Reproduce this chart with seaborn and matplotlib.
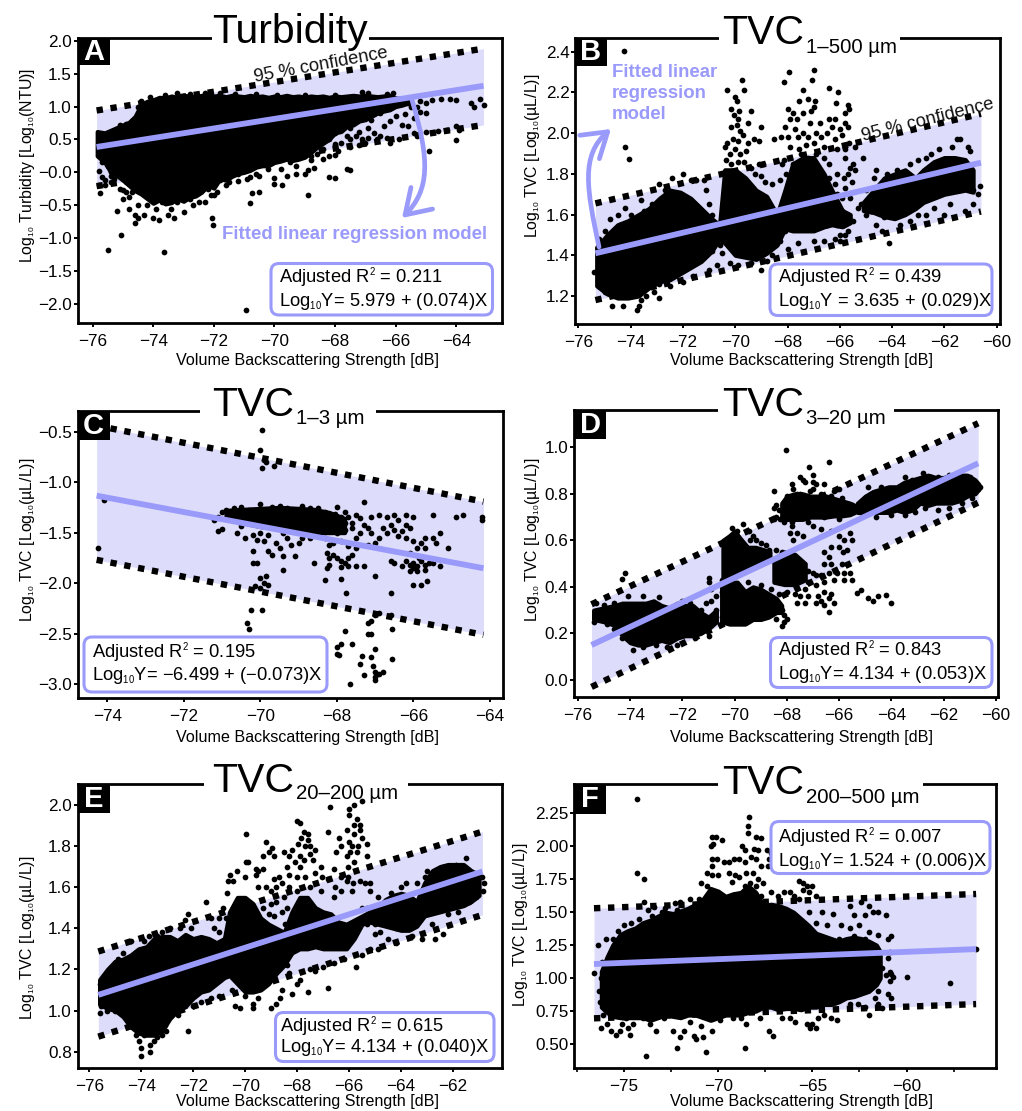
import matplotlib
matplotlib.use("Agg")
import matplotlib.pyplot as plt
import seaborn as sns
from matplotlib.patches import Rectangle, FancyBboxPatch, FancyArrowPatch
from matplotlib.path import Path
from matplotlib.transforms import Affine2D
import matplotlib._mathtext as _mt
_mt.SHRINK_FACTOR = 0.52

sns.set_theme(style="white")
plt.rcParams['font.family'] = ['Liberation Sans', 'DejaVu Sans']
plt.rcParams['mathtext.fontset'] = 'custom'
plt.rcParams['mathtext.rm'] = 'Liberation Sans'
plt.rcParams['mathtext.default'] = 'regular'

BLUE = '#9A9AFB'; BAND = '#DDDDFB'
XLAB = 'Volume Backscattering Strength [dB]'

# ---- regression fit and 95 % band end values (x0,x1), (y0,y1)
a_x = [-75.87, -63.1];  a_fit = [0.385, 1.315]; a_up = [0.94, 1.88];  a_lo = [-0.21, 0.72]
b_x = [-75.35, -60.6];  b_fit = [1.41, 1.855];  b_up = [1.655, 2.095]; b_lo = [1.18, 1.615]
c_x = [-74.28, -64.17]; c_fit = [-1.134, -1.853]; c_up = [-0.44, -1.193]; c_lo = [-1.77, -2.513]
d_x = [-75.48, -60.68]; d_fit = [0.15, 0.931];  d_up = [0.325, 1.103]; d_lo = [-0.03, 0.762]
e_x = [-75.65, -60.87]; e_fit = [1.076, 1.676]; e_up = [1.287, 1.87];  e_lo = [0.873, 1.465]
f_x = [-76.59, -56.31]; f_fit = [1.107, 1.22];  f_up = [1.53, 1.638];  f_lo = [0.695, 0.803]

# ---- dense parts of each cloud: rows of (x, upper edge, lower edge)
a_dense = [[(-75.85,.62,.25),(-75.6,.6,.15),(-75.4,.64,0),(-75.2,.68,-.05),(-75,.72,-.12),(-74.8,.76,-.2),(-74.6,.85,-.28),(-74.4,1.03,-.33),
(-74.2,1.08,-.4),(-74,1.1,-.47),(-73.8,1.14,-.42),(-73.6,1.13,-.48),(-73.4,1.16,-.46),(-73.2,1.14,-.4),(-73,1.17,-.44),(-72.8,1.16,-.38),
(-72.6,1.15,-.36),(-72.4,1.17,-.3),(-72.2,1.15,-.2),(-72,1.16,-.24),(-71.8,1.17,-.1),(-71.6,1.15,-.12),(-71.4,1.17,-.06),(-71.2,1.16,-.02),
(-71,1.15,0),(-70.8,1.17,.03),(-70.6,1.15,.08),(-70.4,1.16,.1),(-70.2,1.14,.1),(-70,1.16,.15),(-69.8,1.15,.17),(-69.6,1.17,.2),(-69.4,1.15,.18),
(-69.2,1.16,.2),(-69,1.14,.23),(-68.8,1.16,.3),(-68.6,1.15,.38),(-68.4,1.16,.44),(-68.2,1.14,.5),(-68,1.16,.6),(-67.8,1.15,.62),(-67.6,1.16,.7),
(-67.4,1.17,.72),(-67.2,1.16,.78),(-67,1.17,.8),(-66.8,1.16,.85),(-66.6,1.15,.9),(-66.4,1.16,.93),(-66.2,1.17,.95),(-66,1.13,1),(-65.8,1.12,1.02),(-65.6,1.09,1.05)]]
b_dense = [[(-75.3,1.44,1.25),(-74.9,1.5,1.21),(-74.5,1.55,1.19),(-74.1,1.57,1.19),(-73.7,1.6,1.2),(-73.3,1.63,1.24),(-72.9,1.68,1.27),(-72.5,1.72,1.28),
(-72.1,1.71,1.31),(-71.7,1.68,1.34),(-71.3,1.63,1.37),(-70.9,1.58,1.42),(-70.6,1.55,1.48),(-70.4,1.82,1.46),(-70,1.82,1.4),(-69.6,1.78,1.39),
(-69.2,1.72,1.38),(-68.8,1.69,1.41),(-68.4,1.6,1.45),(-68.1,1.72,1.53),(-67.8,1.85,1.52),(-67.4,1.88,1.52),(-67,1.88,1.52),(-66.6,1.8,1.54),
(-66.3,1.72,1.55),(-65.9,1.62,1.54),(-65.6,1.6,1.56)],
[(-65.1,1.66,1.62),(-64.7,1.72,1.61),(-64.3,1.78,1.59),(-63.9,1.8,1.58),(-63.5,1.82,1.6),(-63.1,1.78,1.63),(-62.8,1.82,1.66),(-62.4,1.86,1.68),
(-62,1.88,1.7),(-61.6,1.88,1.71),(-61.2,1.87,1.72),(-60.9,1.82,1.71)]]
c_dense = [[(-70.9,-1.28,-1.36),(-70.5,-1.27,-1.4),(-70,-1.26,-1.44),(-69.5,-1.25,-1.46),(-69,-1.26,-1.47),(-68.6,-1.27,-1.5),(-68.2,-1.3,-1.5),(-67.8,-1.36,-1.5)]]
d_dense = [[(-75.4,.30,.26),(-75,.31,.25),(-74.6,.32,.235),(-74.3,.33,.19),(-74,.33,.16),(-73.7,.33,.15),(-73.4,.33,.15),(-73.1,.34,.16),(-72.8,.32,.17),
(-72.5,.31,.16),(-72.2,.33,.18),(-71.9,.32,.19),(-71.6,.32,.19),(-71.3,.29,.2),(-71,.27,.22),(-70.7,.3,.25)],
[(-70.45,.6,.44),(-70.2,.62,.44),(-70,.64,.46),(-69.8,.61,.47),(-69.5,.57,.49),(-69.2,.57,.5),(-68.9,.56,.51),(-68.65,.55,.52)],
[(-70.5,.42,.25),(-70.2,.42,.24),(-69.9,.42,.24),(-69.6,.38,.24),(-69.3,.4,.26),(-69,.39,.26),(-68.7,.37,.27),(-68.4,.35,.29),(-68.2,.32,.29)],
[(-68.2,.76,.69),(-68,.79,.69),(-67.7,.8,.69),(-67.4,.8,.69),(-67.1,.79,.7),(-66.8,.79,.7),(-66.5,.79,.7),(-66.2,.78,.705),(-65.9,.77,.705),(-65.6,.76,.71),(-65.4,.75,.72)],
[(-65.3,.76,.72),(-65,.79,.72),(-64.7,.81,.72),(-64.4,.82,.72),(-64.1,.83,.72),(-63.8,.83,.73),(-63.5,.85,.72),(-63.2,.86,.73),(-62.9,.87,.76),(-62.6,.88,.75),
(-62.3,.87,.76),(-62,.87,.76),(-61.7,.88,.76),(-61.4,.88,.77),(-61.1,.88,.79),(-60.8,.86,.8),(-60.65,.84,.82)],
[(-68.5,.52,.42),(-68.1,.55,.41),(-67.7,.54,.41),(-67.3,.5,.43)]]
e_dense = [[(-75.6,1.15,1.03),(-75.3,1.2,1.01),(-75,1.24,1),(-74.7,1.25,.97),(-74.4,1.27,.92),(-74.1,1.3,.89),(-73.8,1.31,.88),(-73.5,1.35,.88),(-73.2,1.36,.9),
(-72.9,1.36,.96),(-72.6,1.34,1),(-72.3,1.37,1.02),(-72,1.35,1.06),(-71.7,1.36,1.09),(-71.4,1.35,1.1),(-71.1,1.33,1.13),(-70.8,1.35,1.16),(-70.6,1.48,1.17),
(-70.3,1.55,1.13),(-70,1.55,1.09),(-69.7,1.52,1.09),(-69.4,1.45,1.1),(-69.1,1.42,1.13),(-68.8,1.4,1.18),(-68.5,1.38,1.22),(-68.2,1.48,1.28),(-67.9,1.55,1.3),
(-67.6,1.55,1.3),(-67.3,1.5,1.31),(-67,1.48,1.3),(-66.7,1.47,1.3),(-66.4,1.43,1.3),(-66.1,1.42,1.3),(-65.8,1.44,1.35),(-65.5,1.46,1.42),(-65.2,1.48,1.43),
(-64.9,1.5,1.42),(-64.6,1.54,1.41),(-64.3,1.56,1.4),(-64,1.57,1.39),(-63.7,1.56,1.39),(-63.4,1.53,1.41),(-63.1,1.62,1.46),(-62.8,1.68,1.47),(-62.5,1.7,1.48),
(-62.2,1.71,1.49),(-61.9,1.71,1.5),(-61.6,1.71,1.51),(-61.3,1.68,1.53),(-61,1.66,1.56)]]
f_dense = [[(-76.2,1.05,.78),(-75.9,1.16,.74),(-75.6,1.25,.71),(-75.2,1.33,.7),(-74.8,1.36,.7),(-74.4,1.38,.7),(-74,1.42,.7),(-73.6,1.44,.68),(-73.2,1.47,.7),
(-72.8,1.5,.72),(-72.4,1.49,.71),(-72,1.51,.7),(-71.6,1.53,.72),(-71.2,1.56,.72),(-70.8,1.6,.7),(-70.4,1.68,.68),(-70,1.66,.7),(-69.6,1.62,.72),(-69.2,1.64,.72),
(-68.8,1.65,.72),(-68.4,1.7,.74),(-68,1.65,.75),(-67.6,1.55,.78),(-67.2,1.56,.78),(-66.8,1.55,.76),(-66.4,1.53,.77),(-66,1.5,.77),(-65.6,1.45,.76),(-65.2,1.4,.78),
(-64.8,1.34,.78),(-64.4,1.32,.8),(-64,1.3,.8),(-63.6,1.28,.82),(-63.2,1.3,.85),(-62.8,1.31,.86),(-62.4,1.3,.88),(-62,1.28,.9),(-61.6,1.25,.95),(-61.4,1.2,1)]]

# ---- individual dots
a_pts = [(-70.95,-2.09),(-75.5,-1.18),(-75.05,-.96),(-73.65,-1.21),(-72.05,-.7),(-72.03,-.8),(-75.2,-.59),(-75.75,-.32),
(-70.8,-.46),(-70.75,-.32),(-70.5,-.3),(-68.9,-.34),(-69.75,-.2),(-70,-.17),(-70,-.08),(-68.2,-.07),(-68,-.09),(-67.6,.05),(-67.5,.03),
(-64.9,.33),(-64,.49),(-65,1.05),(-65.3,1.0),(-64.8,1.1),(-64.5,1.12),(-64.2,1.12),(-64,1.1),(-63.5,1.06),(-63.4,1.0),(-63.2,1.12),(-63.1,1.03),
(-65.5,1.0),(-65.6,1.05),(-65.2,1.09),(-65,.9),(-65.4,.6),(-65.3,.55),(-65.6,.7),(-65,.62),(-64.6,.63),(-64.3,.65),(-64,.7),(-63.9,.65),(-65.8,.72),
(-66.5,.55),(-66.7,.6),(-66.4,.7),(-67,.45),(-67.2,.42),(-67.5,.38),(-67.8,.45),(-68,.43),(-67.9,.33),(-68,.26),(-68.4,.35),(-68.2,.25),(-66.2,.78),
(-66,.85),(-66.8,.8),(-66.2,.45),(-65.9,.5),(-66.3,.52),(-66.6,.5),(-66.9,.52),(-67.1,.5),(-67.3,.55),(-67.5,.5),(-67.6,.55),(-65.7,.88),(-65.4,.82),
(-66.5,.9),(-65.2,.92),(-67.2,.62),(-67.5,.68),(-66.9,.68),(-68,.6),(-68.2,.5),(-68.4,.2),(-68.6,.28),(-68.8,.25),
(-74.5,-.7),(-74.3,-.65),(-74,-.7),(-73.8,-.72),(-73.5,-.65),(-73.3,-.7),(-74.6,-.77),(-74.6,-.65),(-74.8,-.55),(-75,-.4),(-74.5,-.5),(-73.9,-.55),
(-73.4,-.55),(-73,-.6),(-72.7,-.5),(-72.5,-.45),(-72.3,-.45),(-72.1,-.35),(-72,-.35),(-71.9,-.3),(-71.6,-.2),(-71.5,-.15),(-71.2,-.13),(-70.9,-.1),
(-70.8,-.07),(-70.6,-.02),(-70.5,-.05),(-69.6,-.05),(-69.3,-.03),(-69,-.03),(-68.9,.03),(-68.7,.07),(-69.3,.1),(-69.8,.05),(-74.2,-.5),(-73.7,-.45),
(-73.2,-.45),(-72.8,-.4),(-72.2,-.25),(-71.8,-.12),(-71.2,-.03),(-70.2,.05),(-69.5,.15),(-68.8,.18),(-74.8,-.38),(-75,-.27),(-74.7,-.3),
(-75.8,.02),(-75.7,-.07),(-75.6,-.12),(-75.8,-.2),(-75.6,-.2),(-75.4,-.15),(-75.5,.1),(-75.7,.15),(-75.6,.2),(-75.4,0.0),(-75.3,-.1),(-75.1,-.25),
(-74.9,-.3),(-75.4,-.05),(-75.8,.3),(-75.5,.3),(-75.3,.2),(-75.1,.72),(-74.9,.74),(-74.7,.78),(-74.5,1.0),(-74.4,1.08),(-74.1,1.14),(-73.6,1.18),
(-73.2,1.2),(-72.8,1.19),(-72.3,1.2),(-71.8,1.2),(-71.3,1.19),(-70.6,1.19),(-69.9,1.18),(-69,1.18),(-68,1.18),(-67.1,1.22),(-66.9,1.2),(-66.3,1.19),(-66.1,1.2)]

b_pts = [(-74.25,2.405),(-74.2,1.93),(-74.05,1.875),(-70.3,2.21),(-69.75,2.26),(-69.65,2.21),(-70,2.18),(-69.95,2.16),(-70.15,2.12),(-69.85,2.11),
(-69.4,2.11),(-70.05,2.09),(-69.9,2.07),(-69.95,2.04),(-70.15,2.03),(-69.8,2.01),(-69.5,2.05),(-69,2.03),(-70.3,1.95),(-70.4,1.93),(-70.1,1.97),
(-69.9,1.96),(-69.7,1.99),(-69.5,1.95),(-69.3,1.97),(-69.1,1.96),(-70.2,1.9),(-70,1.92),(-69.8,1.9),(-69.6,1.91),(-70.35,1.87),(-70.15,1.85),(-69.9,1.86),
(-69.65,1.86),(-69.4,1.83),(-69.1,1.85),(-68.95,1.85),(-69.25,1.8),(-69,1.79),(-68.85,1.76),(-68.6,1.75),(-68.3,1.77),(-68.5,1.97),(-68.15,1.87),
(-68.25,1.98),(-68.2,1.85),(-67.95,2.3),(-68.15,2.25),(-67,2.31),(-67.05,2.26),(-67.4,2.21),(-66.4,2.22),(-66.05,2.2),(-67.2,2.17),(-67.55,2.16),
(-66.95,2.16),(-67,2.13),(-66.15,2.15),(-65.7,2.14),(-65.65,2.12),(-65.8,2.1),(-68,2.12),(-67.8,2.1),(-67.4,2.1),(-67.1,2.11),(-67.65,2.07),(-67.9,2.07),
(-67.15,2.05),(-66.75,2.05),(-66.4,2.07),(-66.2,2.07),(-65.8,2.05),(-65.7,2.03),(-66,2.02),(-66.3,2.03),(-66.5,2),(-66.9,2),(-67.4,2),(-67.7,2.02),
(-68.1,2.03),(-68,1.98),(-67.6,1.98),(-67.2,1.98),(-66.7,1.98),(-65.9,1.99),(-66.2,1.97),(-65.65,1.95),(-65.4,1.93),(-65.8,1.92),(-66.1,1.92),(-66.6,1.93),
(-67,1.95),(-67.3,1.94),(-67.9,1.93),(-67.55,1.92),(-65.8,1.88),(-65.6,1.83),(-65.4,1.82),(-65.5,1.85),(-65.7,1.8),(-66.1,1.8),(-65.85,1.78),(-65.55,1.76),
(-65.8,1.73),(-66.2,1.75),(-66.4,1.78),(-66.4,1.85),(-66.3,1.6),(-66.1,1.55),(-65.9,1.62),(-65.7,1.6),(-65.5,1.57),(-65.3,1.63),(-66,1.5),(-65.8,1.5),
(-66.2,1.48),(-66,1.47),(-65.7,1.52),(-66.5,1.55),(-66.6,1.47),(-67,1.47),(-67.6,1.46),(-68,1.43),(-68.3,1.47),(-68.6,1.4),(-68.8,1.37),(-69,1.33),
(-69.4,1.36),(-69.9,1.35),(-70.2,1.36),(-70.5,1.41),(-70.7,1.35),(-71,1.33),(-71.6,1.3),(-72,1.27),(-72.5,1.25),(-72.9,1.26),(-73.1,1.22),(-73.4,1.2),
(-73.6,1.18),(-72.9,1.19),(-73.7,1.15),(-73.75,1.13),(-74.7,1.15),(-74.3,1.15),(-75,1.22),(-75.2,1.25),(-75.4,1.32),(-65.1,1.88),(-64.6,1.82),(-64.7,1.78),
(-65,1.72),(-65.2,1.65),(-65,1.6),(-64.8,1.62),(-64.6,1.55),(-64.4,1.52),(-64.1,1.46),(-64.5,1.7),(-64.2,1.8),(-63.8,1.82),(-63.3,1.85),(-63,1.87),
(-62.7,1.88),(-62.5,1.9),(-62.2,1.92),(-61.5,1.97),(-61.7,1.93),(-61.1,1.93),(-61,1.91),(-62,1.6),(-61.8,1.65),(-61.2,1.62),(-60.9,1.65),(-60.7,1.7),
(-60.65,1.74),(-60.9,1.72),(-62.4,1.63),(-62.7,1.6),(-63,1.6),(-63.3,1.57),(-63.7,1.55),(-64.3,1.59),(-74.8,1.58),(-74.5,1.6),(-74.2,1.63),(-74.4,1.55),
(-74,1.6),(-73.6,1.67),(-73.5,1.62),(-73.2,1.65),(-72.9,1.75),(-72.7,1.72),(-72.4,1.78),(-72.6,1.7),(-72,1.8),(-71.7,1.77),(-71.5,1.77),(-71.2,1.77),
(-71.1,1.72),(-71,1.65),(-70.9,1.6),(-70.7,1.5),(-70.6,1.45),(-70.9,1.42),(-75.2,1.48),(-75,1.52),(-75.1,1.4),(-68.05,1.8),(-68.2,1.6),(-68.1,1.52),
(-68.3,1.55),(-67.8,1.85),(-67.5,1.9),(-67.2,1.88),(-66.9,1.9),(-66.6,1.88),(-66.4,1.7),(-66.2,1.65),(-66.1,1.7),(-65.9,1.68),(-65.6,1.68),(-61.4,1.97)]

c_pts = [(-69.95,-.48),(-70,-.68),(-69.9,-.78),(-69.85,-.8),(-69.95,-.86),(-69.65,-.84),(-74.1,-1.18),(-74.25,-1.65),
(-71.2,-1.38),(-71.1,-1.35),(-71,-1.3),(-70.9,-1.28),(-70.7,-1.26),(-70.5,-1.25),(-70.3,-1.28),(-70,-1.22),(-69.7,-1.25),(-69.5,-1.24),(-69.3,-1.26),
(-68.9,-1.24),(-68.7,-1.26),(-68.5,-1.26),(-68,-1.25),(-67.3,-1.2),(-67.8,-1.3),(-67.5,-1.33),(-67.4,-1.36),(-67.1,-1.35),(-66.9,-1.33),(-66.7,-1.35),
(-66.5,-1.33),(-66.4,-1.38),(-66.2,-1.33),(-66,-1.35),(-65.5,-1.33),(-64.9,-1.35),(-64.7,-1.33),(-64.2,-1.35),(-64.2,-1.38),
(-71.1,-1.48),(-71,-1.46),(-70.6,-1.5),(-70.5,-1.43),(-70.2,-1.52),(-70.4,-1.55),(-70,-1.5),(-69.8,-1.52),(-70.1,-1.57),(-69.9,-1.58),(-69.6,-1.6),(-69.5,-1.65),
(-69.3,-1.55),(-69.2,-1.62),(-69,-1.6),(-68.9,-1.55),(-68.7,-1.55),(-69.4,-1.5),(-68.5,-1.5),(-68.3,-1.55),(-68.2,-1.62),(-68.1,-1.6),(-67.9,-1.58),
(-67.7,-1.63),(-67.5,-1.55),(-67.4,-1.5),(-67.2,-1.45),(-67.1,-1.5),(-66.8,-1.45),(-66.6,-1.42),(-66.5,-1.47),(-66.3,-1.48),(-66.2,-1.42),(-66.1,-1.45),
(-66.2,-1.55),(-66.4,-1.53),(-66.7,-1.5),(-66.9,-1.55),(-67,-1.6),(-67.2,-1.62),(-67.5,-1.65),(-68,-1.5),(-67.8,-1.47),(-67.6,-1.45),(-68.2,-1.46),
(-66,-1.58),(-65.8,-1.6),(-65.7,-1.55),(-65.5,-1.55),(-65.4,-1.6),(-65.3,-1.5),(-65.1,-1.65),(-65.7,-1.65),(-65.9,-1.65),(-66.1,-1.7),
(-70.2,-1.68),(-69.8,-1.68),(-69.7,-1.72),(-69.4,-1.73),(-69.1,-1.73),(-70.1,-1.8),(-70.2,-1.8),(-68.6,-1.8),(-68.2,-1.75),(-68.25,-1.7),(-68.1,-1.72),
(-68,-1.75),(-67.9,-1.78),(-67.8,-1.8),(-67.7,-1.75),(-67.6,-1.72),(-67.5,-1.83),(-67.7,-1.83),(-67.9,-1.84),(-68.2,-1.82),(-68.25,-1.85),(-67.3,-1.83),
(-66.6,-1.78),(-66.5,-1.8),(-66.3,-1.83),(-66.1,-1.82),(-66.2,-1.78),(-66,-1.8),(-65.9,-1.83),(-65.8,-1.78),(-65.7,-1.82),(-65.9,-1.88),(-65.7,-1.87),
(-65.6,-1.8),(-66,-1.85),(-65.5,-1.8),(-65.3,-1.83),(-66.1,-1.88),(-65.85,-1.75),(-69.4,-1.87),(-70,-1.95),(-69.9,-2.0),(-69.85,-1.93),(-70.15,-2.03),
(-70,-2.05),(-69.8,-2.02),(-68.3,-1.97),(-67.9,-1.96),(-67,-1.93),(-66.6,-2.1),(-67.75,-2.1),(-66,-2.02),(-65.8,-2.02),(-65.65,-1.98),(-70.25,-2.27),
(-69.95,-2.27),(-70.35,-2.4),(-70.3,-2.46),(-67.8,-2.48),(-67.2,-2.4),(-67.2,-2.5),(-67.1,-2.5),(-67.1,-2.38),(-67,-2.32),(-66.9,-2.3),(-66.6,-2.32),
(-66.55,-2.46),(-68,-2.63),(-67.9,-2.6),(-67.6,-2.6),(-67,-2.65),(-67.35,-2.72),(-67.1,-2.73),(-66.55,-2.75),(-68,-2.7),(-67.95,-2.71),(-67.4,-2.8),
(-67.05,-2.82),(-67,-2.88),(-66.8,-2.88),(-67,-2.93),(-66.95,-2.9),(-66.9,-2.9),(-67.3,-2.91),(-67.65,-3.0),(-67,-2.96),
(-68.4,-1.38),(-68.1,-1.38),(-68,-1.42),(-67.8,-1.4),(-67.6,-1.4),(-68.3,-1.3),(-68.05,-1.32),(-67.9,-1.35),(-68.2,-1.42),(-67.7,-1.35),(-67.3,-1.42),(-68.4,-1.48)]

d_pts = [(-68.05,.99),(-67.15,.915),(-66.4,.935),(-67,.88),(-67.5,.87),(-67.4,.86),(-67.3,.85),(-67,.85),(-66.9,.84),(-67,.82),(-67.8,.84),(-67.75,.82),
(-66.6,.84),(-66.2,.81),(-66,.82),(-67.6,.8),(-68.5,.81),(-68,.79),(-68.4,.75),(-68.5,.74),(-68.3,.73),(-68.4,.7),(-68.5,.69),(-68.25,.69),(-68.1,.68),
(-67.8,.66),(-67.9,.63),(-67.6,.63),(-67.75,.6),(-67.4,.62),(-67,.66),(-66.7,.65),(-66.3,.64),(-66,.62),(-65.8,.6),(-65.6,.63),(-65.5,.6),(-66.3,.57),(-66,.57),
(-65.85,.55),(-65.7,.56),(-66.6,.55),(-66.4,.53),(-66.3,.5),(-66.6,.5),(-65.9,.5),(-65.7,.5),(-65.8,.46),(-66.1,.46),(-66.4,.46),(-66.7,.45),(-66.9,.45),
(-65.6,.46),(-65.5,.43),(-65.8,.43),(-66.2,.43),(-66.6,.42),(-66.9,.41),(-66.6,.38),(-66.3,.37),(-66.8,.36),(-66.7,.34),(-66.2,.33),(-66.4,.35),(-66.9,.33),
(-66.6,.32),(-66.4,.29),(-65.3,.375),(-65.15,.385),(-64.9,.35),(-64.7,.34),(-64.5,.36),(-64.2,.365),(-64,.33),(-74.2,.46),(-74.3,.435),(-71,.44),(-71,.42),
(-70.9,.39),(-70.5,.38),(-70.7,.36),(-70.9,.34),(-71.1,.33),(-71.3,.3),(-70.7,.3),(-70.9,.27),(-71,.23),(-71,.19),(-70.5,.27),(-70.1,.655),(-69.7,.67),(-69.9,.64),
(-69.45,.64),(-69.3,.62),(-69.2,.6),(-69,.59),(-69.4,.6),(-68.8,.58),(-68.7,.56),(-68.4,.56),(-68.2,.55),(-68,.53),(-68.4,.5),(-68.2,.48),(-68,.47),(-67.8,.5),
(-67.6,.48),(-67.4,.5),(-67.2,.47),(-67,.46),(-68.3,.42),(-68,.42),(-67.7,.43),(-67.4,.44),(-67.2,.42),(-68,.38),(-67.7,.37),(-67.5,.36),(-67.3,.39),(-67.2,.36),
(-67.6,.33),(-67.3,.33),(-68.4,.32),(-68.2,.3),(-68.4,.26),(-68.1,.28),(-68.2,.23),(-68.1,.25),(-68,.26),(-73.9,.13),(-73.5,.14),(-72.6,.14),(-72.2,.15),(-71.5,.18),
(-74.3,.18),(-73,.15),(-75.3,.33),(-75,.32),(-74.6,.33),(-74.1,.36),(-73.5,.36),(-72.9,.355),(-72,.34),(-71.7,.33),(-75.4,.25),(-74.9,.24),(-74.6,.22),
(-64.8,.8),(-64.4,.83),(-64,.82),(-63.5,.87),(-63.2,.86),(-62.8,.89),(-62.5,.87),(-62.2,.87),(-61.8,.88),(-61.4,.88),(-61,.87),(-60.8,.84),(-60.7,.82),(-60.6,.83),
(-60.9,.78),(-61.3,.76),(-61.8,.74),(-62.2,.73),(-62.7,.74),(-63.1,.72),(-63.5,.71),(-64,.71),(-64.6,.7),(-65.2,.72),(-64.9,.83),(-65,.78),(-67.5,.8),(-67.1,.81),
(-66.7,.8),(-66.3,.79),(-65.9,.78),(-65.5,.75),(-67.8,.68),(-67.2,.68),(-66.6,.7),(-66,.69),(-70.5,.43),(-70.1,.42),(-69.5,.42),(-69,.41),(-68.6,.39),(-68.3,.37)]

e_pts = [(-68,1.92),(-67.9,1.91),(-67.75,1.87),(-67.6,1.86),(-67.6,1.83),(-67.85,1.84),(-67.95,1.81),(-68.2,1.78),(-67.7,1.8),(-67.5,1.8),(-67.3,1.78),(-67.5,1.76),
(-67.9,1.75),(-68.3,1.75),(-68.5,1.77),(-67.75,1.73),(-67.4,1.73),(-67.1,1.7),(-67.9,1.7),(-68.1,1.72),(-68.4,1.7),(-67.3,1.67),(-67.7,1.65),(-68,1.65),(-68.3,1.66),
(-68.7,1.65),(-68.9,1.64),(-67.05,1.65),(-66.8,1.64),(-66.6,1.69),(-66.3,1.65),(-66.1,1.63),(-66.55,1.6),(-65.5,2.02),(-65.8,2),(-66,1.98),(-66.75,1.99),(-66,1.95),
(-65.7,1.93),(-65.6,1.88),(-65.8,1.86),(-65.6,1.9),(-66.1,1.88),(-65.8,1.9),(-65.5,1.84),(-66.8,1.87),(-66.4,1.84),(-66,1.82),(-65.9,1.8),(-65.65,1.8),(-65.3,1.81),
(-65.7,1.77),(-65.95,1.77),(-66.3,1.8),(-66.5,1.77),(-66.1,1.75),(-65.3,1.75),(-66.05,1.7),(-65.8,1.72),(-66.05,1.65),(-65.85,1.62),(-65.6,1.63),(-65.4,1.62),(-65.2,1.62),
(-65.9,1.58),(-66.3,1.58),(-66.6,1.55),(-67.1,1.58),(-67.5,1.6),(-68,1.58),(-68.3,1.6),(-69.95,1.86),(-70.6,1.66),(-70.65,1.63),(-70.3,1.68),(-69.95,1.72),(-69.9,1.72),
(-69.6,1.69),(-69.3,1.69),(-69.5,1.68),(-69.1,1.77),(-68.95,1.79),(-68.9,1.75),(-69.2,1.82),(-69.3,1.75),(-69.6,1.66),(-70,1.65),(-70.45,1.63),(-70.7,1.57),(-69.5,1.6),
(-69.2,1.6),(-69,1.58),(-68.8,1.6),(-68.6,1.62),(-68.5,1.55),(-68.8,1.53),(-69,1.52),(-69.3,1.5),(-69.1,1.47),(-68.9,1.46),(-68.6,1.48),(-68.4,1.5),(-70.85,1.5),(-70.75,1.45),
(-71.5,1.53),(-72.2,1.47),(-72.3,1.44),(-72.1,1.4),(-71.3,1.45),(-71.2,1.4),(-71,1.45),(-71,1.38),(-72.5,1.4),(-72.9,1.4),(-73.2,1.38),(-73.4,1.36),(-73.7,1.36),(-73.9,1.34),
(-74.4,1.34),(-74.7,1.28),(-75,1.2),(-75.2,1.2),(-75.4,1.16),(-75.6,1.13),(-75.55,1.02),(-75.3,1),(-75,1),(-75.6,.99),(-74.9,1.25),(-74,.78),(-74,.82),(-73.65,.8),(-73.65,.83),
(-74.1,.85),(-73.9,.88),(-74.2,.88),(-73.5,.85),(-73.4,.87),(-73.2,.88),(-73.05,.9),(-73.1,.93),(-72.2,.9),(-72.6,.98),(-72.8,1),(-72.3,1.02),(-72,1.02),(-71.7,1.04),(-71.3,1.06),
(-71,1.07),(-70.4,1.02),(-70.2,1.01),(-69.7,1.01),(-69.7,1.03),(-69,1.01),(-68.8,1.03),(-68.65,1.06),(-69.5,1.06),(-70,1.07),(-70.5,1.1),(-68.6,1.1),(-68.2,1.08),(-67.6,1.09),
(-68,1.13),(-66.8,1.11),(-67.9,1.15),(-67.5,1.2),(-67.3,1.19),(-67,1.21),(-66.6,1.23),(-66.2,1.25),(-65.75,1.21),(-65.5,1.27),(-65.2,1.3),(-64.9,1.3),(-64.5,1.35),(-64.2,1.33),
(-63.6,1.36),(-63.2,1.35),(-62.7,1.35),(-62.4,1.37),(-61.5,1.74),(-61.9,1.71),(-62.4,1.7),(-63,1.68),(-63.1,1.65),(-63.4,1.62),(-63.8,1.62),(-64,1.6),(-64.4,1.57),(-64.9,1.55),
(-65.2,1.58),(-65.3,1.5),(-65.5,1.5),(-65.3,1.42),(-65,1.42),(-60.9,1.65),(-60.8,1.62),(-60.85,1.58),(-61.1,1.55),(-61.4,1.53),(-61.8,1.48),(-62.2,1.47),(-62.8,1.42),(-63.2,1.46),
(-63.7,1.4),(-64.2,1.4),(-64.8,1.38),(-65,1.37),(-68.5,1.3),(-68.4,1.22),(-68.6,1.25),(-68.3,1.18),(-68.45,1.42)]

f_pts = [(-74.3,2.36),(-74.3,1.8),(-73.95,1.75),(-73.95,1.58),(-73.85,.41),(-72.2,.47),(-70.65,.44),(-68.55,.47),(-76.6,1.04),(-76.35,1.25),(-75.95,1.3),(-60,1.01),(-60.7,1.01),
(-57.7,.96),(-56.3,1.22),(-60.8,1.32),(-68.35,2.22),(-68.4,2.15),(-68.4,2.1),(-68,2.07),(-67.7,2.06),(-70.35,2.07),(-70.1,2.07),(-69.8,2.05),(-70.4,2),(-70.25,2.02),(-68.75,2),
(-68.6,1.97),(-68.1,1.98),(-67.9,1.97),(-67.4,1.97),(-67.2,1.95),(-70.3,1.9),(-70.05,1.9),(-69.7,1.88),(-69.4,1.88),(-69.15,1.9),(-68.9,1.9),(-68.6,1.88),(-68.25,1.92),(-68,1.9),
(-67.7,1.85),(-67.35,1.85),(-67.3,1.9),(-70.35,1.85),(-70.6,1.8),(-70.35,1.78),(-70,1.78),(-69.4,1.8),(-69.1,1.78),(-68.9,1.77),(-68.5,1.8),(-68.15,1.8),(-67.9,1.75),(-67.6,1.72),
(-69.25,1.73),(-68.6,1.7),(-68.3,1.72),(-68,1.7),(-70.9,1.72),(-70.6,1.7),(-65.7,1.74),(-65.5,1.72),(-65.3,1.7),(-65,1.7),(-65.2,1.65),(-65.5,1.67),(-64.8,1.62),(-66.5,1.65),(-66.2,1.65),
(-66,1.62),(-65.7,1.6),(-66.8,1.62),(-67.2,1.65),(-67.7,1.62),(-71,1.6),(-71.5,1.6),(-72,1.58),(-72.3,1.57),(-72.8,1.53),(-73.4,1.54),(-73.7,1.52),(-64.5,1.5),(-63.9,1.49),(-63,1.55),
(-62.4,1.58),(-62,1.55),(-62.8,1.48),(-62.2,1.48),(-61.8,1.5),(-61.5,1.5),(-61.1,1.48),(-63.5,1.4),(-63,1.38),(-62.5,1.4),(-62,1.35),(-61.5,1.33),(-61,1.3),(-60.9,1.2),(-61,1.15),
(-60.9,1.05),(-60.8,1.03),(-61.1,1.02),(-60.9,.98),(-61,.88),(-60.85,.85),(-61.5,.9),(-61.7,.85),(-61.3,.77),(-62,.72),(-61.5,.8),(-62.2,.78),(-62.6,.8),(-63,.8),(-63.7,.68),(-64,.7),
(-64.4,.72),(-64.7,.7),(-65,.65),(-65.1,.62),(-64.8,.62),(-65.3,.65),(-65.9,.67),(-66.2,.7),(-66.6,.7),(-67.3,.6),(-67.1,.56),(-67.8,.7),(-68.5,.65),(-68.8,.7),(-76.1,.72),(-76.2,.62),
(-75.9,.65),(-75.7,.6),(-75.4,.57),(-75.2,.6),(-75.1,.65),(-74.8,.62),(-74.7,.57),(-74.9,.7),(-74.5,.65),(-74,.7),(-73.6,.65),(-73.3,.6),(-72.9,.7),(-72.4,.6),(-72,.55),(-71.5,.67),
(-71.8,.6),(-71.3,.56),(-71.2,.54),(-70.9,.64),(-70.8,.55),(-70.3,.6),(-69.9,.68),(-69.2,.7),(-75.6,1.3),(-75.3,1.36),(-75,1.4),(-74.6,1.42),(-74.2,1.45),(-73.5,1.47),(-73,1.5),
(-72.2,1.52),(-71.2,1.55),(-66,1.45),(-65.2,1.5),(-64.8,1.42),(-64.2,1.4),(-63.6,1.3),(-62.8,1.32),(-62.2,1.3),(-61.8,1.25),(-61.4,1.2),(-61.3,1.08),(-61.5,1.02),(-62,.95),(-62.5,.92),
(-63,.88),(-63.5,.85),(-64,.82),(-76.2,1.0),(-76.3,.9),(-76.25,.82),(-76.15,1.12)]

# ---- tick values and labels
a_xt = [-76,-74,-72,-70,-68,-66,-64]
a_yt = [2.0,1.5,1.0,.5,0,-.5,-1,-1.5,-2]
a_yl = ['2.0','1.5','1.0','0.5','\u22120.0','\u22120.5','\u22121.0','\u22121.5','\u22122.0']
b_xt = [-76,-74,-72,-70,-68,-66,-64,-62,-60]
b_yt = [1.2,1.4,1.6,1.8,2.0,2.2,2.4]
c_xt = [-74,-72,-70,-68,-66,-64]
c_yt = [-.5,-1,-1.5,-2,-2.5,-3]
d_yt = [0,.2,.4,.6,.8,1.0]
e_xt = [-76,-74,-72,-70,-68,-66,-64,-62]
e_yt = [.8,1,1.2,1.4,1.6,1.8,2]
f_xt = [-75,-70,-65,-60]
f_xm = [-77.5,-72.5,-67.5,-62.5,-57.5]
f_yt = [.5,.75,1,1.25,1.5,1.75,2,2.25]

fig = plt.figure(figsize=(10.22, 11.11), dpi=100, facecolor='white')
px = Affine2D().scale(1, -1).translate(0, 1111)

def panel(box, xlim, ylim, xt, yt, ytl, fmt, x, fit, up, lo, dense, pts,
          letter, lbl_box, main, sub, tpos, gap, ylab, ylab_pos, xlab_pos, stat, stat_box, stat_xy):
    l, t, r, b = box
    ax = fig.add_axes([l/1022, 1-b/1111, (r-l)/1022, (b-t)/1111])
    ax.fill_between(x, up, lo, color=BAND, lw=0, zorder=1)
    for edge in (up, lo):
        sns.lineplot(x=x, y=edge, ax=ax, color='black', lw=4.6, linestyle=(0, (1, 1.2)), errorbar=None, zorder=2)
    for rows in dense:
        ax.fill_between([r_[0] for r_ in rows], [r_[1] for r_ in rows], [r_[2] for r_ in rows],
                        facecolor='black', edgecolor='black', lw=3, joinstyle='round', zorder=3)
    sns.scatterplot(x=[p[0] for p in pts], y=[p[1] for p in pts], ax=ax, s=17, color='black', linewidth=0, zorder=3)
    sns.lineplot(x=x, y=fit, ax=ax, color=BLUE, lw=4.2, errorbar=None, zorder=4, solid_capstyle='butt')
    ax.set_xlim(*xlim); ax.set_ylim(*ylim)
    ax.set_xticks(xt)
    ax.set_yticks(yt)
    ax.set_yticklabels(ytl if ytl else [fmt.format(v).replace('-', '\u2212') for v in yt])
    ax.tick_params(axis='x', length=3, width=1.4, pad=5, labelsize=12.3, color='black', labelcolor='black', bottom=True)
    ax.tick_params(axis='y', length=3, width=1.4, pad=1, labelsize=12.3, color='black', labelcolor='black', left=True)
    for s in ax.spines.values():
        s.set_linewidth(2.0); s.set_color('black')
    ax.grid(False)
    ax.set_xlabel(XLAB, fontsize=11.6, color='black')
    ax.xaxis.set_label_coords(xlab_pos[0], xlab_pos[1], transform=px)
    ax.set_ylabel(ylab, fontsize=11.4, color='black')
    ax.yaxis.set_label_coords(ylab_pos[0], ylab_pos[1], transform=px)
    fig.add_artist(Rectangle((lbl_box[0], lbl_box[1]), lbl_box[2]-lbl_box[0], lbl_box[3]-lbl_box[1],
                             transform=px, fc='black', ec='black', lw=0, zorder=5))
    fig.text((lbl_box[0]+lbl_box[2])/2, (lbl_box[1]+lbl_box[3])/2+0.5, letter, transform=px, color='white',
             fontsize=21, fontweight='bold', ha='center', va='center', zorder=6)
    fig.add_artist(Rectangle((gap[0], t-3), gap[1]-gap[0], 6, transform=px, fc='white', ec='none', zorder=5))
    fig.text(tpos[0], tpos[1], main, transform=px, fontsize=29.5, color='black', ha='left', va='baseline', zorder=6)
    if sub:
        fig.text(tpos[2], tpos[3], sub, transform=px, fontsize=14.7, color='black', ha='left', va='baseline', zorder=6)
    x0, y0, x1, y1 = stat_box
    fig.add_artist(FancyBboxPatch((x0+6, y0+6), x1-x0-12, y1-y0-12, boxstyle='round,pad=6,rounding_size=8',
                                  transform=px, fc='white', ec=BLUE, lw=2.2, zorder=5))
    fig.text(stat_xy[0], stat_xy[1], stat[0], transform=px, fontsize=13.2, color='black', ha='left', va='baseline', zorder=6)
    fig.text(stat_xy[0], stat_xy[1]+stat_xy[2], stat[1], transform=px, fontsize=13.2, color='black', ha='left', va='baseline', zorder=6)
    return ax

LOGY = 'Log$_{10}$ TVC [Log$_{10}$(\u00b5L/L)]'

panel((77.5,37.7,502,323), (-76.5,-62.49), (-2.29,2.046), a_xt, a_yt, a_yl, '{:.1f}', a_x, a_fit, a_up, a_lo, a_dense, a_pts,
      'A', (77.5,37.7,110,65), 'Turbidity', None, (212,43), (212,369),
      'Log$_{10}$ Turbidity [Log$_{10}$(NTU)]', (37,165), (307.5,353),
      ('Adjusted R$^{2}$ = 0.211', 'Log$_{10}$Y= 5.979 + (0.074)X'), (271,263.5,492.5,315), (279,283,23.5))
panel((575,37.7,1000,324), (-76.13,-59.87), (1.0625,2.469), b_xt, b_yt, None, '{:.1f}', b_x, b_fit, b_up, b_lo, b_dense, b_pts,
      'B', (575,37.7,606.5,66), 'TVC', '1\u2013500 \u00b5m', (722,44.3,806,52.7), (719,900),
      LOGY, (542,155.5), (801,353),
      ('Adjusted R$^{2}$ = 0.439', 'Log$_{10}$Y = 3.635 + (0.029)X'), (770,264,992,315.5), (777.5,283,23.5))
panel((77.5,410.7,503,698.3), (-74.78,-63.66), (-3.142,-0.292), c_xt, c_yt, None, '{:.1f}', c_x, c_fit, c_up, c_lo, c_dense, c_pts,
      'C', (77.5,410.7,110,439.5), 'TVC', '1\u20133 \u00b5m', (212,416,296,423.7), (200,376),
      LOGY, (37,540), (307.5,730),
      ('Adjusted R$^{2}$ = 0.195', 'Log$_{10}$Y= \u22126.499 + (\u22120.073)X'), (84,637,327,692), (92.5,658,21.5))
panel((574,410,998.3,696.7), (-76.15,-59.91), (-0.072,1.16), b_xt, d_yt, None, '{:.1f}', d_x, d_fit, d_up, d_lo, d_dense, d_pts,
      'D', (574,410,606,438.5), 'TVC', '3\u201320 \u00b5m', (722,416,806,423.7), (718,894),
      LOGY, (542,540), (801,730),
      ('Adjusted R$^{2}$ = 0.843', 'Log$_{10}$Y= 4.134 + (0.053)X'), (770.5,637.5,992,687.5), (777.5,656,23))
panel((77.5,784.3,501.7,1068.3), (-76.45,-60.13), (0.719,2.10), e_xt, e_yt, None, '{:.1f}', e_x, e_fit, e_up, e_lo, e_dense, e_pts,
      'E', (77.5,784.3,110,812.5), 'TVC', '20\u2013200 \u00b5m', (212,791.7,295.5,799.3), (204,408),
      LOGY, (37,938), (307.5,1094),
      ('Adjusted R$^{2}$ = 0.615', 'Log$_{10}$Y= 4.134 + (0.040)X'), (275.5,1012.5,494,1061.5), (280,1032,20.5))
panel((574,784.3,995.7,1068.3), (-77.65,-55.27), (0.316,2.47), f_xt, f_yt, None, '{:.2f}', f_x, f_fit, f_up, f_lo, f_dense, f_pts,
      'F', (574,784.3,606,813.5), 'TVC', '200\u2013500 \u00b5m', (722,794.3,805.5,803), (718,923),
      LOGY, (530,925), (801,1094),
      ('Adjusted R$^{2}$ = 0.007', 'Log$_{10}$Y= 1.524 + (0.006)X'), (771,821.5,990,873.5), (778,843,23))
fax = fig.axes[-1]
fax.set_xticks(f_xm, minor=True)
fax.tick_params(axis='x', which='minor', length=3, width=1.4, bottom=True)

for (tx, ty, ang) in [(321, 65, 10.5), (928, 120, 14)]:
    fig.text(tx, ty, '95 % confidence', transform=px, fontsize=13.2, color='#111111', rotation=ang,
             rotation_mode='anchor', ha='center', va='center', zorder=6)
fig.text(222, 239, 'Fitted linear regression model', transform=px, fontsize=13.4, color=BLUE, fontweight='bold', zorder=6)
for i, s in enumerate(['Fitted linear', 'regression', 'model']):
    fig.text(612, 77+i*21, s, transform=px, fontsize=13.4, color=BLUE, fontweight='bold', zorder=6)

arrow_a = Path([(412,100),(430,160),(430,190),(402,218)], [Path.MOVETO, Path.CURVE4, Path.CURVE4, Path.CURVE4])
arrow_b = Path([(599,247),(587,190),(580,155),(611,129)], [Path.MOVETO, Path.CURVE4, Path.CURVE4, Path.CURVE4])
for p in (arrow_a, arrow_b):
    fig.add_artist(FancyArrowPatch(path=p, transform=px, arrowstyle='->,head_length=17,head_width=11',
                                   mutation_scale=1, color=BLUE, lw=3.4, zorder=6))

fig.savefig('out.png', dpi=100, facecolor='white')
